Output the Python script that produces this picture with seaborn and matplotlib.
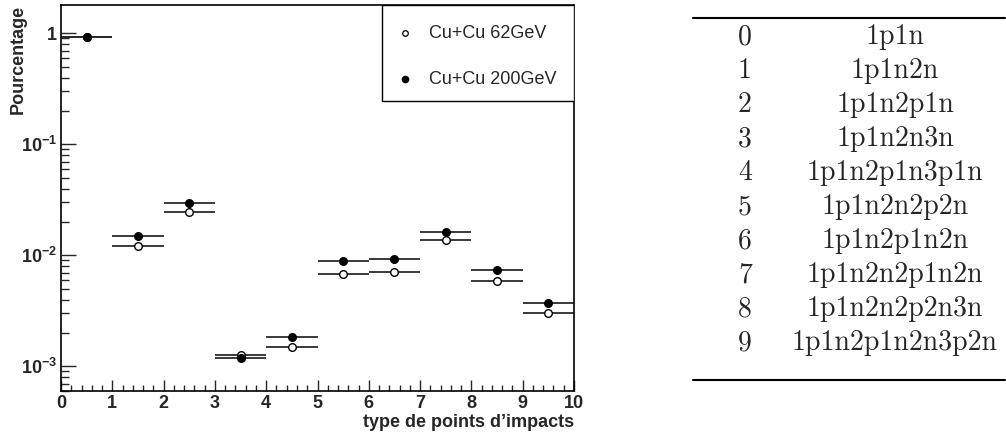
import numpy as np
import pandas as pd
import matplotlib
matplotlib.use("Agg")
import matplotlib.pyplot as plt
from matplotlib.ticker import FixedLocator, MultipleLocator, NullFormatter, LogLocator
from matplotlib.lines import Line2D
import seaborn as sns

# Bin index (impact-point topology) and fraction per collision energy
types = list(range(10))
frac_62 = [0.93, 0.0121, 0.0245, 0.00126, 0.00151, 0.00686, 0.00707, 0.0137, 0.0059, 0.0030]
frac_200 = [0.93, 0.0148, 0.0298, 0.00120, 0.00184, 0.00892, 0.0093, 0.0163, 0.00738, 0.00374]
series_labels = ["Cu+Cu 62GeV", "Cu+Cu 200GeV"]
y_ticks = [1e-3, 1e-2, 1e-1, 1]
y_tick_labels = [r"$10^{-3}$", r"$10^{-2}$", r"$10^{-1}$", "1"]
topologies = ["1p1n", "1p1n2n", "1p1n2p1n", "1p1n2n3n", "1p1n2p1n3p1n",
              "1p1n2n2p2n", "1p1n2p1n2n", "1p1n2n2p1n2n", "1p1n2n2p2n3n",
              "1p1n2p1n2n3p2n"]

sns.set_style("white")
plt.rcParams["font.family"] = ["Liberation Sans", "DejaVu Sans"]
plt.rcParams["mathtext.fontset"] = "custom"
plt.rcParams["mathtext.rm"] = "Liberation Sans:bold"
plt.rcParams["mathtext.bf"] = "Liberation Sans:bold"
plt.rcParams["mathtext.it"] = "Liberation Sans:bold"

df = pd.DataFrame({
    "x": np.array(types) + 0.5,
    "f62": frac_62,
    "f200": frac_200,
})

W, H = 1006, 433
fig = plt.figure(figsize=(W / 100, H / 100), dpi=100)
L, R, T, B = 61, 574, 5, 391
ax = fig.add_axes([L / W, 1 - B / H, (R - L) / W, (B - T) / H])

# horizontal bars spanning each bin
bar_color = "#2a2a2a"
ax.hlines(df["f62"], df["x"] - 0.5, df["x"] + 0.5, color=bar_color, lw=1.3, zorder=2)
ax.hlines(df["f200"], df["x"] - 0.5, df["x"] + 0.5, color=bar_color, lw=1.3, zorder=2)

sns.scatterplot(data=df, x="x", y="f62", ax=ax, marker="o", s=30,
                facecolor="white", edgecolor="black", linewidth=1.0, zorder=3)
sns.scatterplot(data=df, x="x", y="f200", ax=ax, marker="o", s=30,
                color="black", edgecolor="black", linewidth=1.0, zorder=4)

ax.set_yscale("log")
ax.set_xlim(0, 10)
ax.set_ylim(6.0e-4, 1.8)

ax.xaxis.set_major_locator(MultipleLocator(1))
ax.xaxis.set_minor_locator(MultipleLocator(0.2))
ax.yaxis.set_major_locator(FixedLocator(y_ticks))
ax.set_yticklabels(y_tick_labels)
ax.yaxis.set_minor_locator(LogLocator(base=10, subs=np.arange(2, 10)))
ax.yaxis.set_minor_formatter(NullFormatter())
ax.set_xticks(range(0, 11))
ax.set_xticklabels([str(i) for i in range(0, 11)])

ax.tick_params(axis="x", which="major", direction="in", length=8, width=1.0,
               pad=3, labelsize=13, top=False, bottom=True)
ax.tick_params(axis="x", which="minor", direction="in", length=4, width=1.0,
               top=False, bottom=True)
ax.tick_params(axis="y", which="major", direction="in", length=11, width=1.0,
               pad=3, labelsize=13, left=True, right=False)
ax.tick_params(axis="y", which="minor", direction="in", length=6, width=1.0,
               left=True, right=False)
for lab in ax.get_xticklabels() + ax.get_yticklabels():
    lab.set_fontweight("bold")
for sp in ax.spines.values():
    sp.set_linewidth(1.2)
    sp.set_color("black")

ax.set_xlabel("type de points d\u2019impacts", fontsize=13, fontweight="bold",
              loc="right")
ax.xaxis.set_label_coords(1.0, -(414 - B) / (B - T))
ax.xaxis.label.set_va("top")
ax.set_ylabel("")
fig.text(18 / W, 1 - 5 / H, "Pourcentage", rotation=90, ha="center", va="top",
         fontsize=13, fontweight="bold")

# legend box
lx0, ly0, ly1 = 382, 5, 101
def ax_x(px):
    return (px - L) / (R - L)
def ax_y(py):
    return (B - py) / (B - T)
ax.add_patch(plt.Rectangle((ax_x(lx0), ax_y(ly1)), 1 - ax_x(lx0), ax_y(ly0) - ax_y(ly1),
                           transform=ax.transAxes, facecolor="white",
                           edgecolor="black", lw=1.0, zorder=5))
ax.plot([ax_x(405)], [ax_y(33)], transform=ax.transAxes, marker="o", ms=4,
        mfc="white", mec="black", mew=0.9, zorder=6)
ax.plot([ax_x(405)], [ax_y(79)], transform=ax.transAxes, marker="o", ms=4.5,
        mfc="black", mec="black", zorder=6)
ax.text(ax_x(429), ax_y(33), series_labels[0], transform=ax.transAxes,
        fontsize=13, va="center", ha="left", zorder=6)
ax.text(ax_x(429), ax_y(79), series_labels[1], transform=ax.transAxes,
        fontsize=13, va="center", ha="left", zorder=6)

# table of topologies
fig.add_artist(Line2D([693 / W, 1005 / W], [1 - 18 / H, 1 - 18 / H], color="black", lw=1.5))
fig.add_artist(Line2D([693 / W, 1005 / W], [1 - 380 / H, 1 - 380 / H], color="black", lw=1.5))
for i, name in zip(types, topologies):
    yy = 1 - (37 + 34 * i) / H
    fig.text(745 / W, yy, str(i), family="cmr10", fontsize=20, ha="center", va="center")
    fig.text(895 / W, yy, name, family="cmr10", fontsize=20, ha="center", va="center")

fig.savefig("out.png", dpi=100)
